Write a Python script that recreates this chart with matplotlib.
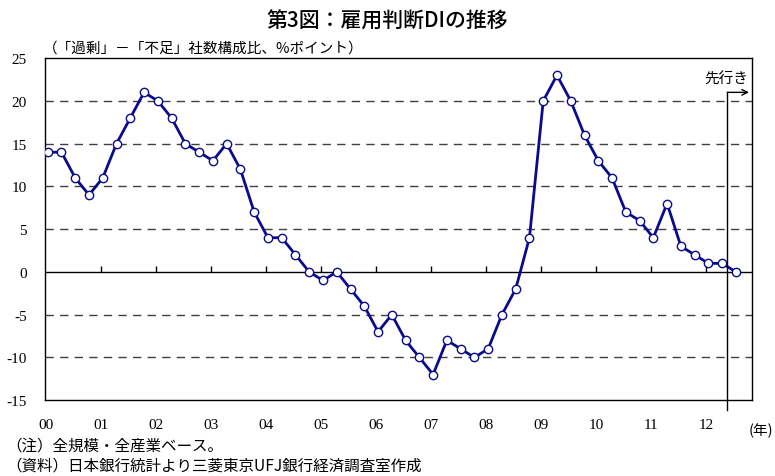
import numpy as np
import matplotlib
matplotlib.use("Agg")
import matplotlib.pyplot as plt

plt.rcParams['font.family'] = ['Noto Sans CJK JP', 'DejaVu Sans']

# 雇用判断DI（全規模・全産業、四半期、2000年3月～先行き）
di_values = [14, 14, 11, 9, 11, 15, 18, 21, 20, 18, 15, 14, 13, 15, 12, 7,
             4, 4, 2, 0, -1, 0, -2, -4, -7, -5, -8, -10, -12, -8, -9, -10,
             -9, -5, -2, 4, 20, 23, 20, 16, 13, 11, 7, 6, 4, 8, 3, 2,
             1, 1, 0]
year_labels = ['00', '01', '02', '03', '04', '05', '06', '07', '08', '09', '10', '11', '12']
y_ticks = [25, 20, 15, 10, 5, 0, -5, -10, -15]
grid_levels = [20, 15, 10, 5, -5, -10]

navy = '#0A0A8C'
serif = ['Liberation Serif', 'DejaVu Serif']

fig = plt.figure(figsize=(7.75, 4.77), dpi=100)
fig.set_facecolor('white')
ax = fig.add_axes([0.058, 0.159, 0.912, 0.717])

x = np.arange(len(di_values))
ax.set_xlim(-0.2, 51.15)
ax.set_ylim(-15, 25)

for lv in grid_levels:
    ax.axhline(lv, color='#404040', lw=1.0, dashes=(6, 4.5), zorder=1)
ax.axhline(0, color='black', lw=1.0, zorder=2)

# year ticks on zero line (pointing up)
tick_pos = [4 * k - 0.15 for k in range(len(year_labels))]
ax.vlines(tick_pos[1:], 0, 0.7, color='black', lw=1.0, zorder=2)

ax.plot(x, di_values, color=navy, lw=2, marker='o', markersize=6,
        markerfacecolor='white', markeredgecolor=navy, markeredgewidth=1.0, zorder=3)

for s in ax.spines.values():
    s.set_color('black')
    s.set_linewidth(1.0)

ax.set_xticks(tick_pos)
ax.set_xticklabels(year_labels, family=serif, fontsize=11)
ax.set_yticks(y_ticks)
ax.set_yticklabels([str(v) for v in y_ticks], family=serif, fontsize=11)
ax.tick_params(axis='both', length=0, pad=13)
ax.tick_params(axis='y', pad=13)

# 先行き marker
fx = 49.38
ax.plot([fx, fx], [-16.1, 21.0], color='black', lw=1.0, clip_on=False, zorder=4)
ax.annotate('', xy=(50.95, 21.0), xytext=(fx, 21.0),
            arrowprops=dict(arrowstyle='->', color='black', lw=1.0,
                            shrinkA=0, shrinkB=0), annotation_clip=False)
ax.text(50.9, 22.6, '先行き', ha='right', va='center', fontsize=10.5)

fig.text(0.5, 0.954, '第3図：雇用判断DIの推移', ha='center', va='center',
         fontsize=15, fontweight='medium')
fig.text(0.055, 0.899, '（「過剰」－「不足」社数構成比、%ポイント）', ha='left',
         va='center', fontsize=10.5)
fig.text(0.998, 0.097, '(年)', ha='right', va='center', fontsize=10.5)
fig.text(0.008, 0.064, '（注）全規模・全産業ベース。', ha='left', va='center', fontsize=11.2)
fig.text(0.008, 0.022, '（資料）日本銀行統計より三菱東京UFJ銀行経済調査室作成',
         ha='left', va='center', fontsize=11.2)

fig.savefig('out.png', dpi=100, facecolor='white')
